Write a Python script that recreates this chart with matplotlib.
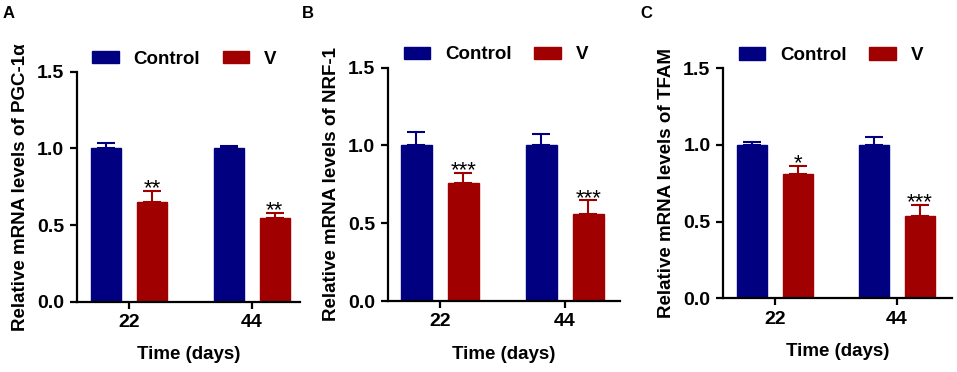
import matplotlib
matplotlib.use("Agg")
import matplotlib.pyplot as plt
from matplotlib.patches import Patch

plt.rcParams['font.family'] = ['Liberation Sans', 'DejaVu Sans']
plt.rcParams['font.weight'] = 'bold'

# data
days = ['22', '44']
genes = ['PGC-1α', 'NRF-1', 'TFAM']
panel_letters = ['A', 'B', 'C']
control_mean = [[1.0, 1.0], [1.0, 1.0], [1.0, 1.0]]
control_err = [[0.037, 0.017], [0.084, 0.071], [0.021, 0.052]]
v_mean = [[0.652, 0.544], [0.756, 0.557], [0.809, 0.537]]
v_err = [[0.070, 0.036], [0.069, 0.090], [0.056, 0.072]]
stars = [['**', '**'], ['***', '***'], ['*', '***']]

blue = '#000080'
red = '#A00000'

W, H = 957, 372
fig = plt.figure(figsize=(W / 100, H / 100), dpi=100)

# axes rectangles in pixels: left, top, right, bottom
rects = [(76.7, 71.7, 300, 301.7), (387.7, 67.7, 620, 301), (723, 68.3, 951.7, 298.3)]
xlims = [(-0.43, 1.395), (-0.418, 1.44), (-0.423, 1.447)]
letter_x = [3, 302, 640]

off = 0.188
bw = 0.245
for i in range(3):
    l, t, r, b = rects[i]
    ax = fig.add_axes([l / W, 1 - b / H, (r - l) / W, (b - t) / H])
    x = [0, 1]
    xc = [p - off for p in x]
    xv = [p + off for p in x]
    ax.bar(xc, control_mean[i], bw, color=blue, edgecolor=blue, zorder=2)
    ax.bar(xv, v_mean[i], bw, color=red, edgecolor=red, zorder=2)
    ax.errorbar(xc, control_mean[i], yerr=[[0, 0], control_err[i]], fmt='none',
                ecolor=blue, elinewidth=1.5, capsize=6.5, capthick=1.5, zorder=1)
    ax.errorbar(xv, v_mean[i], yerr=[[0, 0], v_err[i]], fmt='none',
                ecolor=red, elinewidth=1.5, capsize=6.5, capthick=1.5, zorder=1)
    for j in range(2):
        ax.annotate(stars[i][j], (xv[j], v_mean[i][j] + v_err[i][j]),
                    xytext=(0, -2.5), textcoords='offset points',
                    ha='center', va='baseline', fontsize=16, fontweight='normal')
    ax.set_xlim(*xlims[i])
    ax.set_ylim(0, 1.5)
    ax.set_yticks([0, 0.5, 1.0, 1.5])
    ax.set_yticklabels(['0.0', '0.5', '1.0', '1.5'])
    ax.set_xticks(x)
    ax.set_xticklabels(days)
    for s in ['top', 'right']:
        ax.spines[s].set_visible(False)
    for s in ['left', 'bottom']:
        ax.spines[s].set_linewidth(1.6)
    ax.tick_params(axis='both', width=1.6, length=5, labelsize=14, pad=4)
    ax.set_ylabel('Relative mRNA levels of ' + genes[i], fontsize=13.5,
                  fontweight='bold', labelpad=6)
    ax.set_xlabel('Time (days)', fontsize=13.5, fontweight='bold', labelpad=11)
    handles = [Patch(color=blue, label='Control'), Patch(color=red, label='V')]
    ax.legend(handles=handles, loc='center left', bbox_to_anchor=(0.07, 1.055),
              ncol=2, frameon=False, fontsize=13.5, handlelength=1.4,
              handleheight=0.65, handletextpad=0.8, columnspacing=1.2,
              borderaxespad=0, borderpad=0)
    fig.text(letter_x[i] / W, 1 - 6 / H, panel_letters[i], fontsize=12,
             fontweight='bold', va='top', ha='left')

fig.savefig('out.png', dpi=100)
